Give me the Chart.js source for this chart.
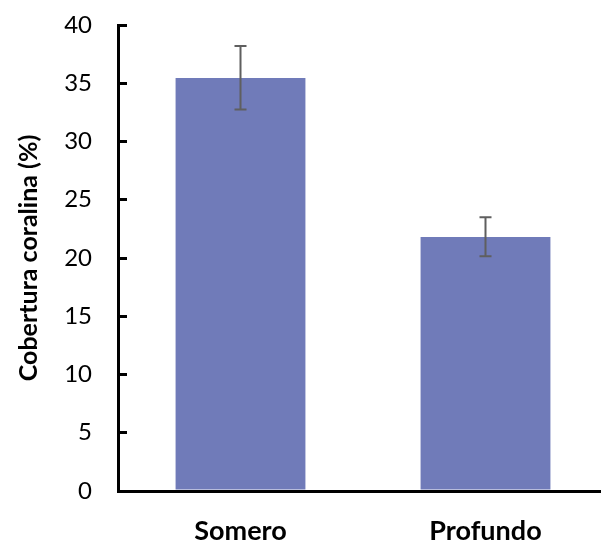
<!DOCTYPE html>
<html>
<head>
<meta charset="utf-8">
<script src="https://cdn.jsdelivr.net/npm/chart.js@4/dist/chart.umd.min.js"></script>
<style>
  html, body { margin: 0; padding: 0; background: #fff; overflow: hidden; }
  #wrap { width: 601px; height: 546px; overflow: hidden; }
</style>
</head>
<body>
<div id="wrap"><canvas id="coralChart" width="620" height="546"></canvas></div>
<script>
const sites = ["Somero", "Profundo"];
const coverMean = [35.45, 21.8];
const coverLow = [32.75, 20.15];
const coverHigh = [38.2, 23.5];
const yTicks = [0, 5, 10, 15, 20, 25, 30, 35, 40];

// draws the error bars through the y scale
const errorBars = {
  id: "errorBars",
  afterDatasetsDraw(chart) {
    const ctx = chart.ctx;
    const meta = chart.getDatasetMeta(0);
    const y = chart.scales.y;
    ctx.save();
    ctx.strokeStyle = "#5f5f5f";
    ctx.lineWidth = 2;
    meta.data.forEach((bar, i) => {
      const top = y.getPixelForValue(coverHigh[i]);
      const bottom = y.getPixelForValue(coverLow[i]);
      ctx.beginPath();
      ctx.moveTo(bar.x, top);
      ctx.lineTo(bar.x, bottom);
      ctx.moveTo(bar.x - 6, top);
      ctx.lineTo(bar.x + 6, top);
      ctx.moveTo(bar.x - 6, bottom);
      ctx.lineTo(bar.x + 6, bottom);
      ctx.stroke();
    });
    ctx.restore();
  },
};

new Chart(document.getElementById("coralChart"), {
  type: "bar",
  data: {
    labels: sites,
    datasets: [
      {
        data: coverMean,
        backgroundColor: "rgb(112, 123, 185)",
        borderWidth: 0,
        categoryPercentage: 1,
        barPercentage: 0.53,
      },
    ],
  },
  options: {
    responsive: false,
    animation: false,
    layout: { padding: { top: 25, right: 12, left: 0, bottom: 0 } },
    plugins: {
      legend: { display: false },
      tooltip: { enabled: false },
    },
    scales: {
      x: {
        afterFit: (axis) => { axis.height = 55; },
        grid: { display: false, drawTicks: false },
        border: { color: "#000", width: 3 },
        ticks: {
          color: "#000",
          padding: 24,
          font: { family: "Lato", size: 27, weight: "bold" },
        },
      },
      y: {
        min: 0,
        max: 40,
        afterBuildTicks: (axis) => {
          axis.ticks = yTicks.map((v) => ({ value: v }));
        },
        afterFit: (axis) => {
          axis.width = 118;
          axis.paddingTop = 0;
          axis.paddingBottom = 0;
        },
        grid: {
          drawOnChartArea: false,
          drawTicks: true,
          tickLength: -9,
          color: "#000",
          lineWidth: 3,
        },
        border: { color: "#000", width: 3 },
        ticks: {
          color: "#000",
          padding: 35,
          font: { family: "Lato", size: 24 },
        },
        title: {
          display: true,
          text: "Cobertura coralina (%)",
          color: "#000",
          padding: { top: 14, bottom: 0 },
          font: { family: "Lato", size: 25, weight: "bold" },
        },
      },
    },
  },
  plugins: [errorBars],
});
</script>
</body>
</html>
